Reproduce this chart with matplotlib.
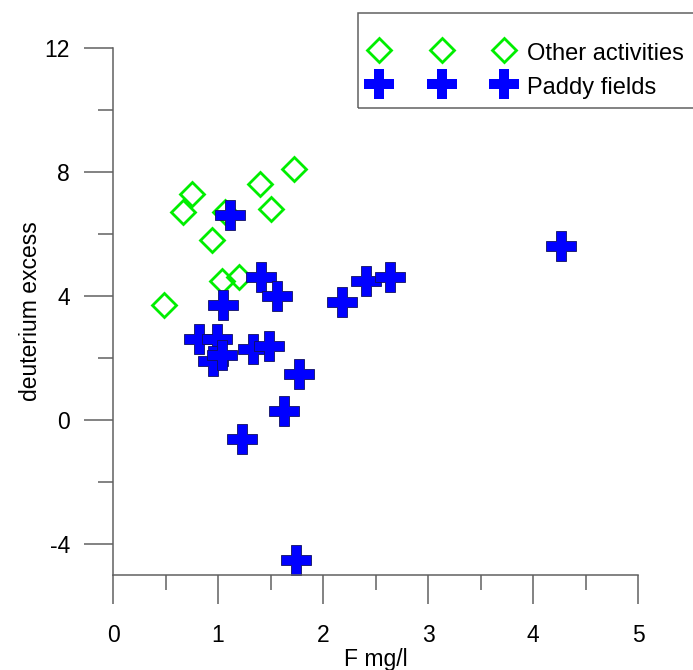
import numpy as np
import matplotlib
matplotlib.use("Agg")
import matplotlib.pyplot as plt
from matplotlib.patches import Rectangle
from matplotlib.ticker import MultipleLocator

plt.rcParams['font.family'] = ['Liberation Sans', 'DejaVu Sans']
plt.rcParams['axes.unicode_minus'] = False

# other activities (green diamonds)
other_f = [0.49, 0.75, 0.67, 1.07, 0.94, 1.40, 1.72, 1.50, 1.04, 1.20]
other_d = [3.7, 7.3, 6.7, 6.7, 5.8, 7.6, 8.1, 6.8, 4.5, 4.6]

# paddy fields (blue crosses)
paddy_f = [1.11, 1.41, 1.56, 1.05, 2.18, 2.41, 2.64, 4.27, 0.82, 0.99,
           0.95, 1.04, 1.33, 1.49, 1.77, 1.63, 1.23, 1.74]
paddy_d = [6.6, 4.6, 4.0, 3.7, 3.8, 4.5, 4.6, 5.6, 2.6, 2.6,
           1.9, 2.1, 2.3, 2.4, 1.5, 0.3, -0.6, -4.5]

W, H = 693, 670
fig = plt.figure(figsize=(W / 100, H / 100), dpi=100)
ax = fig.add_axes([113 / W, 1 - 575 / H, 525 / W, 527 / H])

ax.plot(other_f, other_d, linestyle='none', marker='D', ms=12.5,
        mfc='none', mec='#00ee00', mew=2, label='Other activities')
ax.plot(paddy_f, paddy_d, linestyle='none', marker='P', ms=21,
        mfc='#0000ff', mec='#101060', mew=0.6, label='Paddy fields')

ax.set_xlim(0, 5)
ax.set_ylim(-5, 12)
ax.xaxis.set_major_locator(MultipleLocator(1))
ax.xaxis.set_minor_locator(MultipleLocator(0.5))
ax.yaxis.set_minor_locator(MultipleLocator(2))
ax.set_yticks([-4, 0, 4, 8, 12])

for s in ['top', 'right']:
    ax.spines[s].set_visible(False)
for s in ['left', 'bottom']:
    ax.spines[s].set_color('#606060')
    ax.spines[s].set_linewidth(1.1)

ax.tick_params(which='major', direction='out', length=21, width=1.1,
               color='#606060', labelsize=16.5)
ax.tick_params(which='minor', direction='out', length=11, width=1.1,
               color='#606060')
ax.tick_params(axis='x', which='major', pad=14)
ax.tick_params(axis='y', which='major', pad=10)

ax.set_xlabel('F mg/l', fontsize=16.5, labelpad=1)
ax.set_ylabel('deuterium excess', fontsize=16.5, labelpad=1.5)

# legend box runs past the right edge of the figure, like the original
fig.patches.append(Rectangle((358 / W, 1 - 108 / H), 400 / W, 95 / H,
                             transform=fig.transFigure, fill=False,
                             ec='#606060', lw=1.1))
leg = ax.legend(loc='upper left', bbox_to_anchor=(358 / W, 1 - 13 / H),
                bbox_transform=fig.transFigure, borderaxespad=0,
                numpoints=3, handlelength=5.9, handletextpad=0.66,
                handleheight=1.2, fontsize=17, frameon=False,
                labelspacing=0.38, borderpad=0.6,
                title=' ', title_fontsize=2)
for h in leg.legend_handles:
    h.set_markeredgewidth(2 if h.get_marker() == 'D' else 0)

fig.savefig('out.png', dpi=100)
